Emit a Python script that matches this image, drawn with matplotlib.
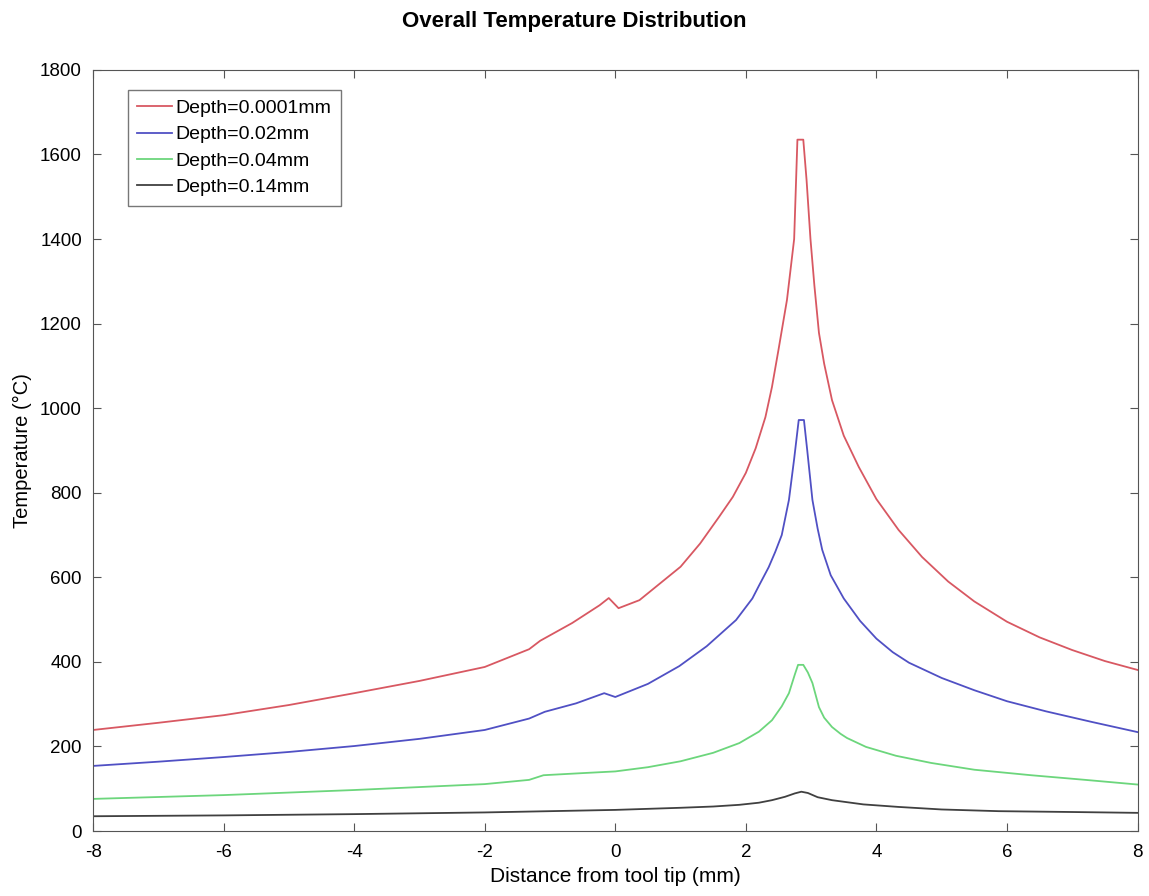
import matplotlib.pyplot as plt

plt.rcParams['font.family'] = ['Liberation Sans', 'DejaVu Sans']
plt.rcParams['axes.unicode_minus'] = False

# values (x in mm, temperature in degC)
x_red = [-8, -7, -6, -5, -4, -3, -2, -1.32, -1.15, -0.66, -0.24, -0.1, 0.05, 0.37, 1.0,
         1.3, 1.59, 1.8, 2.0, 2.15, 2.3, 2.4, 2.5, 2.63, 2.74, 2.79, 2.88, 2.93, 2.99,
         3.05, 3.12, 3.2, 3.32, 3.5, 3.73, 4.0, 4.34, 4.7, 5.1, 5.5, 6.0, 6.5, 7.0,
         7.5, 8.0]
t_red = [239, 256, 274, 298, 326, 355, 388, 430, 450, 492, 534, 551, 527, 546, 625,
         680, 743, 790, 847, 905, 979, 1050, 1138, 1256, 1400, 1635, 1635, 1540, 1400,
         1290, 1178, 1105, 1019, 935, 861, 785, 712, 648, 590, 543, 495, 458, 428,
         402, 381]

x_blue = [-8, -7, -6, -5, -4, -3, -2, -1.32, -1.08, -0.6, -0.17, 0.0, 0.5, 0.98, 1.4,
          1.85, 2.1, 2.2, 2.35, 2.45, 2.55, 2.66, 2.74, 2.81, 2.89, 2.94, 3.02, 3.1,
          3.17, 3.3, 3.5, 3.75, 4.0, 4.25, 4.5, 5.0, 5.5, 6.0, 6.6, 7.3, 8.0]
t_blue = [154, 164, 175, 187, 201, 218, 239, 266, 282, 302, 326, 317, 348, 390, 437,
          499, 550, 580, 624, 660, 700, 783, 880, 972, 972, 901, 783, 715,
          665, 605, 550, 497, 455, 423, 398, 362, 333, 307, 283, 258, 234]

x_green = [-8, -6, -4, -2, -1.32, -1.1, -0.5, 0.0, 0.5, 1.0, 1.5, 1.9, 2.2, 2.4, 2.55,
           2.66, 2.75, 2.8, 2.88, 2.95, 3.02, 3.12, 3.2, 3.32, 3.45, 3.55, 3.84, 4.3,
           4.84, 5.5, 6.37, 7.2, 8.0]
t_green = [76, 85, 97, 111, 121, 132, 137, 141, 151, 165, 185, 208, 235, 262, 295,
           326, 370, 393, 393, 375, 350, 293, 268, 246, 230, 220, 199, 178,
           161, 145, 132, 121, 110]

x_black = [-8, -6, -4, -2, -1, 0, 1, 1.5, 1.9, 2.2, 2.4, 2.6, 2.75, 2.85, 2.95, 3.1,
           3.32, 3.8, 4.34, 5.0, 5.87, 7.0, 8.0]
t_black = [35, 37, 40, 44, 47, 50, 55, 58, 62, 67, 73, 81, 89, 93, 90, 80,
           73, 63, 57, 51, 47, 45, 43]

labels = ['Depth=0.0001mm', 'Depth=0.02mm', 'Depth=0.04mm', 'Depth=0.14mm']

fig = plt.figure(figsize=(11.49, 8.96), dpi=100)
ax = fig.add_axes([0.081, 0.0725, 0.909, 0.8495])

ax.plot(x_red, t_red, color='#d85862', lw=1.3, label=labels[0])
ax.plot(x_blue, t_blue, color='#5050c4', lw=1.3, label=labels[1])
ax.plot(x_green, t_green, color='#6cd67c', lw=1.3, label=labels[2])
ax.plot(x_black, t_black, color='#404040', lw=1.3, label=labels[3])

ax.set_xlim(-8, 8)
ax.set_ylim(0, 1800)
ax.set_xticks(range(-8, 9, 2))
ax.set_yticks(range(0, 1801, 200))
ax.tick_params(direction='in', top=True, right=True, labelsize=13.5, length=6,
               color='#555555')
ax.tick_params(axis='x', pad=9)
ax.tick_params(axis='y', pad=8)
for s in ax.spines.values():
    s.set_color('#555555')

ax.set_xlabel('Distance from tool tip (mm)', fontsize=15, labelpad=5)
ax.set_ylabel('Temperature (°C)', fontsize=14.5, labelpad=6)
fig.suptitle('Overall Temperature Distribution', fontsize=16, fontweight='bold', y=0.988)

leg = ax.legend(loc='upper left', fontsize=14, fancybox=False, edgecolor='#555555',
                handlelength=1.8, handletextpad=0.15, borderpad=0.5, labelspacing=0.45,
                borderaxespad=0, bbox_to_anchor=(0.033, 0.974))
leg.get_frame().set_linewidth(1.0)

fig.savefig('out.png', dpi=100)
